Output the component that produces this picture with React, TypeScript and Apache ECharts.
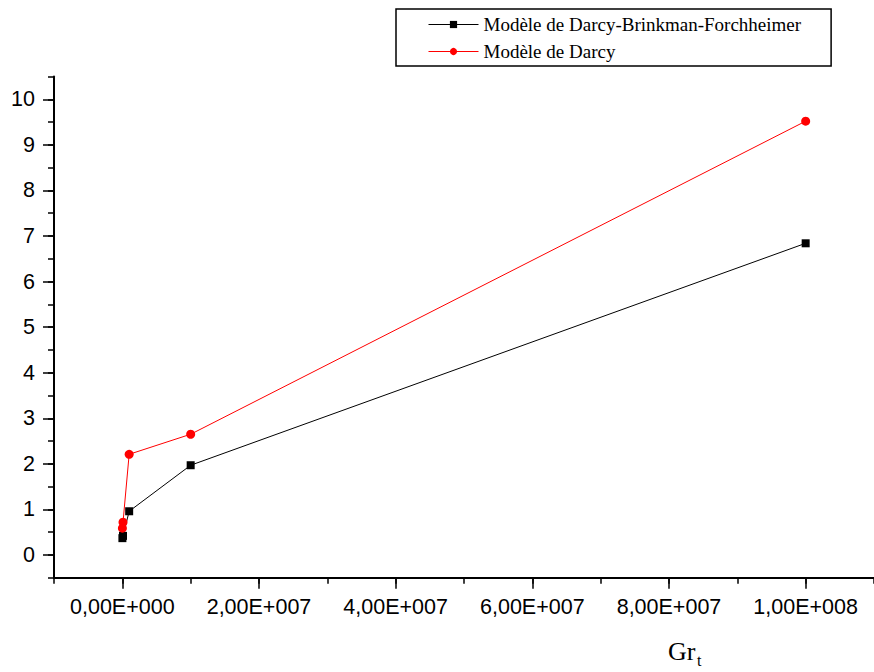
import React, { useEffect, useRef } from "react";
import * as echarts from "echarts";

const seriesNames = ["Modèle de Darcy-Brinkman-Forchheimer", "Modèle de Darcy"];
const grValues = [1e4, 1e5, 1e6, 1e7, 1e8];
const dbfValues = [0.37, 0.42, 0.96, 1.97, 6.84];
const darcyValues = [0.59, 0.72, 2.21, 2.65, 9.52];
const xMajorTicks = [0, 2e7, 4e7, 6e7, 8e7, 1e8];
const yMajorTicks = [0, 1, 2, 3, 4, 5, 6, 7, 8, 9, 10];

function sci(v: number): string {
  if (v === 0) return "0,00E+000";
  const e = Math.floor(Math.log10(Math.abs(v)) + 1e-9);
  const m = v / Math.pow(10, e);
  return m.toFixed(2).replace(".", ",") + "E" + (e >= 0 ? "+" : "-") + String(Math.abs(e)).padStart(3, "0");
}

const sans = "Liberation Sans, Arial, sans-serif";
const serif = "Liberation Serif, Times New Roman, serif";

export default function App() {
  const ref = useRef<HTMLDivElement>(null);
  useEffect(() => {
    if (!ref.current) return;
    const chart = echarts.init(ref.current, null, { renderer: "svg" });
    const xMin = -1e7, xMax = 1.1e8, yMin = -0.5, yMax = 10.5;
    chart.setOption({
      animation: false,
      backgroundColor: "#fff",
      grid: { left: 54, right: -3, top: 76.5, bottom: 94.2, containLabel: false },
      legend: {
        orient: "vertical",
        left: 396,
        top: 9,
        padding: [6, 30, 5, 32],
        itemGap: 8,
        itemWidth: 50,
        itemHeight: 9,
        borderColor: "#000",
        borderWidth: 1.5,
        lineStyle: { width: 1 },
        data: seriesNames,
        textStyle: { fontFamily: serif, fontSize: 19, color: "#000" },
      },
      xAxis: [
        {
          type: "value", min: xMin, max: xMax, position: "bottom",
          axisLine: { show: true, onZero: false, lineStyle: { color: "#000", width: 2 } },
          axisTick: { show: true, length: 11, customValues: xMajorTicks, lineStyle: { color: "#000", width: 1.5 } },
          axisLabel: { customValues: xMajorTicks, formatter: (v: number) => sci(v), fontFamily: sans, fontSize: 21.5, color: "#000", margin: 18 },
          splitLine: { show: false },
        },
        {
          type: "value", min: xMin, max: xMax, interval: 1e7, position: "bottom",
          axisLine: { show: false, onZero: false },
          axisTick: { show: true, length: 6, lineStyle: { color: "#000", width: 1.5 } },
          axisLabel: { show: false },
          splitLine: { show: false },
        },
      ],
      yAxis: [
        {
          type: "value", min: yMin, max: yMax, position: "left",
          axisLine: { show: true, onZero: false, lineStyle: { color: "#000", width: 2 } },
          axisTick: { show: true, length: 11, customValues: yMajorTicks, lineStyle: { color: "#000", width: 1.5 } },
          axisLabel: { customValues: yMajorTicks, fontFamily: sans, fontSize: 21.5, color: "#000", margin: 19 },
          splitLine: { show: false },
        },
        {
          type: "value", min: yMin, max: yMax, interval: 0.5, position: "left",
          axisLine: { show: false, onZero: false },
          axisTick: { show: true, length: 6, lineStyle: { color: "#000", width: 1.5 } },
          axisLabel: { show: false },
          splitLine: { show: false },
        },
      ],
      series: [
        {
          name: seriesNames[0], type: "line", xAxisIndex: 0, yAxisIndex: 0,
          data: grValues.map((x, i) => [x, dbfValues[i]]),
          symbol: "rect", symbolSize: 8,
          itemStyle: { color: "#000" },
          lineStyle: { color: "#000", width: 1 },
        },
        {
          name: seriesNames[1], type: "line", xAxisIndex: 0, yAxisIndex: 0,
          data: grValues.map((x, i) => [x, darcyValues[i]]),
          symbol: "circle", symbolSize: 9,
          itemStyle: { color: "#ff0000" },
          lineStyle: { color: "#ff0000", width: 1 },
        },
      ],
      graphic: [
        { type: "text", left: 668, top: 638, style: { text: "Gr", font: `26px ${serif}`, fill: "#000" } },
        { type: "text", left: 697, top: 652, style: { text: "t", font: `16px ${serif}`, fill: "#000" } },
      ],
    });
    return () => chart.dispose();
  }, []);
  return <div ref={ref} style={{ position: "fixed", left: 0, top: 0, width: 874, height: 672 }} />;
}
